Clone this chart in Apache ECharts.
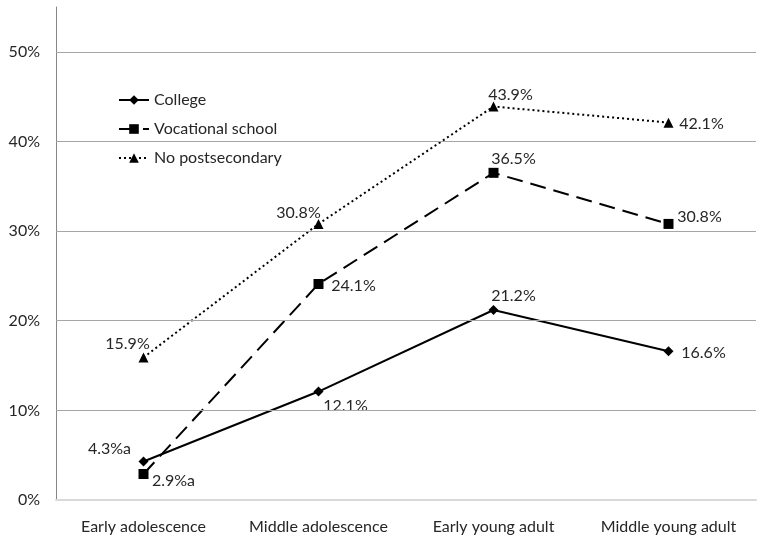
<!DOCTYPE html>
<html><head><meta charset="utf-8">
<script src="https://cdn.jsdelivr.net/npm/echarts@6/dist/echarts.min.js"></script>
<style>html,body{margin:0;padding:0;background:#fff}#c{width:764px;height:545px}</style>
</head><body><div id="c"></div>
<script>
const categories = ['Early adolescence', 'Middle adolescence', 'Early young adult', 'Middle young adult'];
const college = [4.3, 12.1, 21.2, 16.6];
const vocational = [2.9, 24.1, 36.5, 30.8];
const noPost = [15.9, 30.8, 43.9, 42.1];
const collegeText = ['4.3%a', '12.1%', '21.2%', '16.6%'];
const vocationalText = ['2.9%a', '24.1%', '36.5%', '30.8%'];
const noPostText = ['15.9%', '30.8%', '43.9%', '42.1%'];
const gridValues = [10, 20, 30, 40, 50];

const collegeOff = [[-34,-13],[27,14],[20,-14],[35,2]];
const vocOff = [[30,7],[35,2],[20,-14],[31,-7]];
const noPostOff = [[-16,-14],[-20,-11],[17,-12],[33,1]];

const FONT = 'Lato, "Open Sans", sans-serif';
const TXT = '#262626';
const FS = 16;

function mk(vals, texts, offs) {
  return vals.map((v, i) => ({
    value: v,
    label: { show: true, position: 'inside', offset: offs[i], formatter: texts[i],
      align: 'center', verticalAlign: 'middle', color: TXT, fontSize: FS, fontFamily: FONT }
  }));
}

const chart = echarts.init(document.getElementById('c'), null, { renderer: 'canvas' });
chart.setOption({
  animation: false,
  grid: { left: 56, right: 8, top: 7, bottom: 45 },
  legend: {
    orient: 'vertical', left: 118, top: 92, padding: 0, itemWidth: 30, itemHeight: 12, itemGap: 13,
    textStyle: { color: TXT, fontSize: FS, fontFamily: FONT },
    data: ['College', 'Vocational school', 'No postsecondary']
  },
  xAxis: {
    type: 'category', data: categories, boundaryGap: true,
    axisLine: { lineStyle: { color: '#d9d9d9', width: 2 } },
    axisTick: { show: false },
    axisLabel: { color: TXT, fontSize: FS, fontFamily: FONT, margin: 19, interval: 0 }
  },
  yAxis: {
    type: 'value', min: 0, max: 55, interval: 10,
    axisLine: { show: true, lineStyle: { color: '#868686', width: 1 } },
    axisTick: { show: false },
    splitLine: { show: false },
    axisLabel: { color: TXT, fontSize: FS, fontFamily: FONT, margin: 16, showMaxLabel: false,
      formatter: v => v > 50 ? '' : v + '%' }
  },
  series: [
    {
      name: 'College', type: 'line', data: mk(college, collegeText, collegeOff),
      symbol: 'diamond', symbolSize: 10, color: '#000',
      lineStyle: { color: '#000', width: 2, type: 'solid' },
      itemStyle: { color: '#000' },
      markLine: {
        silent: true, symbol: 'none', label: { show: false },
        lineStyle: { color: '#a6a6a6', width: 1, type: 'solid' },
        data: gridValues.map(v => ({ yAxis: v }))
      },
      z: 3
    },
    {
      name: 'Vocational school', type: 'line', data: mk(vocational, vocationalText, vocOff),
      symbol: 'rect', symbolSize: 10, color: '#000',
      lineStyle: { color: '#000', width: 2, type: [16, 8] },
      itemStyle: { color: '#000' }, z: 3
    },
    {
      name: 'No postsecondary', type: 'line', data: mk(noPost, noPostText, noPostOff),
      symbol: 'triangle', symbolSize: 10, color: '#000',
      lineStyle: { color: '#000', width: 2, type: [2, 3] },
      itemStyle: { color: '#000' }, z: 3
    }
  ]
});
</script></body></html>
